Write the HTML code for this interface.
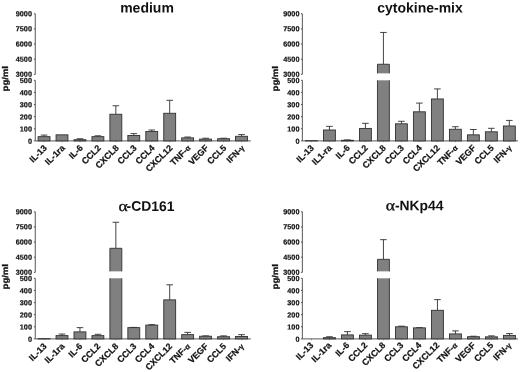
<!DOCTYPE html>
<html><head><meta charset="utf-8"><title>chart</title>
<style>
html,body{margin:0;padding:0;background:#fff;}
body{width:520px;height:372px;overflow:hidden;font-family:"Liberation Sans", sans-serif;}
svg{display:block;font-family:"Liberation Sans", sans-serif;filter:blur(0.3px);text-rendering:geometricPrecision;}
</style></head><body>
<svg width="520" height="372" viewBox="0 0 520 372">
<rect width="520" height="372" fill="#fff"/>
<text x="147" y="12.4" transform="rotate(0.03 147 12.4)" font-size="14" font-weight="bold" text-anchor="middle" fill="#111">medium</text>
<path d="M35.25 13.750000000000014V74.35000000000001M35.25 80.30000000000001V140.9H250.85" stroke="#444" stroke-width="0.9" fill="none"/>
<text x="31.95" y="143.70" transform="rotate(0.03 31.95 143.70)" font-size="7.25" font-weight="bold" text-anchor="end" fill="#111" stroke="#111" stroke-width="0.2">0</text>
<text x="31.95" y="131.58" transform="rotate(0.03 31.95 131.58)" font-size="7.25" font-weight="bold" text-anchor="end" fill="#111" stroke="#111" stroke-width="0.2">100</text>
<text x="31.95" y="119.46" transform="rotate(0.03 31.95 119.46)" font-size="7.25" font-weight="bold" text-anchor="end" fill="#111" stroke="#111" stroke-width="0.2">200</text>
<text x="31.95" y="107.34" transform="rotate(0.03 31.95 107.34)" font-size="7.25" font-weight="bold" text-anchor="end" fill="#111" stroke="#111" stroke-width="0.2">300</text>
<text x="31.95" y="95.22" transform="rotate(0.03 31.95 95.22)" font-size="7.25" font-weight="bold" text-anchor="end" fill="#111" stroke="#111" stroke-width="0.2">400</text>
<text x="31.95" y="83.10" transform="rotate(0.03 31.95 83.10)" font-size="7.25" font-weight="bold" text-anchor="end" fill="#111" stroke="#111" stroke-width="0.2">500</text>
<text x="31.95" y="76.80" transform="rotate(0.03 31.95 76.80)" font-size="7.25" font-weight="bold" text-anchor="end" fill="#111" stroke="#111" stroke-width="0.2">3000</text>
<text x="31.95" y="61.65" transform="rotate(0.03 31.95 61.65)" font-size="7.25" font-weight="bold" text-anchor="end" fill="#111" stroke="#111" stroke-width="0.2">4500</text>
<text x="31.95" y="46.50" transform="rotate(0.03 31.95 46.50)" font-size="7.25" font-weight="bold" text-anchor="end" fill="#111" stroke="#111" stroke-width="0.2">6000</text>
<text x="31.95" y="31.35" transform="rotate(0.03 31.95 31.35)" font-size="7.25" font-weight="bold" text-anchor="end" fill="#111" stroke="#111" stroke-width="0.2">7500</text>
<text x="31.95" y="16.20" transform="rotate(0.03 31.95 16.20)" font-size="7.25" font-weight="bold" text-anchor="end" fill="#111" stroke="#111" stroke-width="0.2">9000</text>
<path d="M33.85 140.90H35.25M33.85 128.78H35.25M33.85 116.66H35.25M33.85 104.54H35.25M33.85 92.42H35.25M33.85 80.30H35.25M33.85 74.35H35.25M33.85 59.20H35.25M33.85 44.05H35.25M33.85 28.90H35.25M33.85 13.75H35.25" stroke="#444" stroke-width="0.9" fill="none"/>
<text transform="translate(8.1,78.73) rotate(-90) scale(1.15,1)" font-size="8.3" font-weight="bold" text-anchor="middle" fill="#111" stroke="#111" stroke-width="0.3">pg/ml</text>
<path d="M44.05 136.66V135.08M40.75 135.08H47.35" stroke="#303030" stroke-width="0.9" fill="none"/>
<rect x="38.10" y="136.66" width="11.9" height="4.24" fill="#808080" stroke="#303030" stroke-width="0.9"/>
<path d="M44.05 140.90v1.3" stroke="#666" stroke-width="0.7"/>
<text transform="translate(47.55,148.50) rotate(-45)" font-size="8.8" font-weight="bold" text-anchor="end" fill="#111" stroke="#111" stroke-width="0.22">IL-13</text>
<rect x="56.05" y="134.84" width="11.9" height="6.06" fill="#808080" stroke="#303030" stroke-width="0.9"/>
<path d="M62.00 140.90v1.3" stroke="#666" stroke-width="0.7"/>
<text transform="translate(65.50,148.50) rotate(-45)" font-size="8.8" font-weight="bold" text-anchor="end" fill="#111" stroke="#111" stroke-width="0.22">IL-1ra</text>
<path d="M79.95 139.69V138.72M76.65 138.72H83.25" stroke="#303030" stroke-width="0.9" fill="none"/>
<rect x="74.00" y="139.69" width="11.9" height="1.21" fill="#808080" stroke="#303030" stroke-width="0.9"/>
<path d="M79.95 140.90v1.3" stroke="#666" stroke-width="0.7"/>
<text transform="translate(83.45,148.50) rotate(-45)" font-size="8.8" font-weight="bold" text-anchor="end" fill="#111" stroke="#111" stroke-width="0.22">IL-6</text>
<path d="M97.90 136.66V135.81M94.60 135.81H101.20" stroke="#303030" stroke-width="0.9" fill="none"/>
<rect x="91.95" y="136.66" width="11.9" height="4.24" fill="#808080" stroke="#303030" stroke-width="0.9"/>
<path d="M97.90 140.90v1.3" stroke="#666" stroke-width="0.7"/>
<text transform="translate(101.40,148.50) rotate(-45)" font-size="8.8" font-weight="bold" text-anchor="end" fill="#111" stroke="#111" stroke-width="0.22">CCL2</text>
<path d="M115.85 114.24V105.75M112.55 105.75H119.15" stroke="#303030" stroke-width="0.9" fill="none"/>
<rect x="109.90" y="114.24" width="11.9" height="26.66" fill="#808080" stroke="#303030" stroke-width="0.9"/>
<path d="M115.85 140.90v1.3" stroke="#666" stroke-width="0.7"/>
<text transform="translate(119.35,148.50) rotate(-45)" font-size="8.8" font-weight="bold" text-anchor="end" fill="#111" stroke="#111" stroke-width="0.22">CXCL8</text>
<path d="M133.80 135.45V133.63M130.50 133.63H137.10" stroke="#303030" stroke-width="0.9" fill="none"/>
<rect x="127.85" y="135.45" width="11.9" height="5.45" fill="#808080" stroke="#303030" stroke-width="0.9"/>
<path d="M133.80 140.90v1.3" stroke="#666" stroke-width="0.7"/>
<text transform="translate(137.30,148.50) rotate(-45)" font-size="8.8" font-weight="bold" text-anchor="end" fill="#111" stroke="#111" stroke-width="0.22">CCL3</text>
<path d="M151.75 131.45V129.99M148.45 129.99H155.05" stroke="#303030" stroke-width="0.9" fill="none"/>
<rect x="145.80" y="131.45" width="11.9" height="9.45" fill="#808080" stroke="#303030" stroke-width="0.9"/>
<path d="M151.75 140.90v1.3" stroke="#666" stroke-width="0.7"/>
<text transform="translate(155.25,148.50) rotate(-45)" font-size="8.8" font-weight="bold" text-anchor="end" fill="#111" stroke="#111" stroke-width="0.22">CCL4</text>
<path d="M169.70 113.27V100.30M166.40 100.30H173.00" stroke="#303030" stroke-width="0.9" fill="none"/>
<rect x="163.75" y="113.27" width="11.9" height="27.63" fill="#808080" stroke="#303030" stroke-width="0.9"/>
<path d="M169.70 140.90v1.3" stroke="#666" stroke-width="0.7"/>
<text transform="translate(173.20,148.50) rotate(-45)" font-size="8.8" font-weight="bold" text-anchor="end" fill="#111" stroke="#111" stroke-width="0.22">CXCL12</text>
<path d="M187.65 137.87V137.02M184.35 137.02H190.95" stroke="#303030" stroke-width="0.9" fill="none"/>
<rect x="181.70" y="137.87" width="11.9" height="3.03" fill="#808080" stroke="#303030" stroke-width="0.9"/>
<path d="M187.65 140.90v1.3" stroke="#666" stroke-width="0.7"/>
<text transform="translate(191.15,148.50) rotate(-45)" font-size="8.8" font-weight="bold" text-anchor="end" fill="#111" stroke="#111" stroke-width="0.22">TNF-<tspan font-size="7.6">α</tspan></text>
<path d="M205.60 139.08V138.23M202.30 138.23H208.90" stroke="#303030" stroke-width="0.9" fill="none"/>
<rect x="199.65" y="139.08" width="11.9" height="1.82" fill="#808080" stroke="#303030" stroke-width="0.9"/>
<path d="M205.60 140.90v1.3" stroke="#666" stroke-width="0.7"/>
<text transform="translate(209.10,148.50) rotate(-45)" font-size="8.8" font-weight="bold" text-anchor="end" fill="#111" stroke="#111" stroke-width="0.22">VEGF</text>
<path d="M223.55 138.72V138.23M220.25 138.23H226.85" stroke="#303030" stroke-width="0.9" fill="none"/>
<rect x="217.60" y="138.72" width="11.9" height="2.18" fill="#808080" stroke="#303030" stroke-width="0.9"/>
<path d="M223.55 140.90v1.3" stroke="#666" stroke-width="0.7"/>
<text transform="translate(227.05,148.50) rotate(-45)" font-size="8.8" font-weight="bold" text-anchor="end" fill="#111" stroke="#111" stroke-width="0.22">CCL5</text>
<path d="M241.50 136.29V134.60M238.20 134.60H244.80" stroke="#303030" stroke-width="0.9" fill="none"/>
<rect x="235.55" y="136.29" width="11.9" height="4.61" fill="#808080" stroke="#303030" stroke-width="0.9"/>
<path d="M241.50 140.90v1.3" stroke="#666" stroke-width="0.7"/>
<text transform="translate(245.00,148.50) rotate(-45)" font-size="8.8" font-weight="bold" text-anchor="end" fill="#111" stroke="#111" stroke-width="0.22">IFN-<tspan font-size="7.6">γ</tspan></text>
<text x="420" y="12.4" transform="rotate(0.03 420 12.4)" font-size="14" font-weight="bold" text-anchor="middle" fill="#111">cytokine-mix</text>
<path d="M302.35 13.750000000000014V74.35000000000001M302.35 80.30000000000001V140.9H517.95" stroke="#444" stroke-width="0.9" fill="none"/>
<text x="299.45" y="143.70" transform="rotate(0.03 299.45 143.70)" font-size="7.25" font-weight="bold" text-anchor="end" fill="#111" stroke="#111" stroke-width="0.2">0</text>
<text x="299.45" y="131.58" transform="rotate(0.03 299.45 131.58)" font-size="7.25" font-weight="bold" text-anchor="end" fill="#111" stroke="#111" stroke-width="0.2">100</text>
<text x="299.45" y="119.46" transform="rotate(0.03 299.45 119.46)" font-size="7.25" font-weight="bold" text-anchor="end" fill="#111" stroke="#111" stroke-width="0.2">200</text>
<text x="299.45" y="107.34" transform="rotate(0.03 299.45 107.34)" font-size="7.25" font-weight="bold" text-anchor="end" fill="#111" stroke="#111" stroke-width="0.2">300</text>
<text x="299.45" y="95.22" transform="rotate(0.03 299.45 95.22)" font-size="7.25" font-weight="bold" text-anchor="end" fill="#111" stroke="#111" stroke-width="0.2">400</text>
<text x="299.45" y="83.10" transform="rotate(0.03 299.45 83.10)" font-size="7.25" font-weight="bold" text-anchor="end" fill="#111" stroke="#111" stroke-width="0.2">500</text>
<text x="299.45" y="76.80" transform="rotate(0.03 299.45 76.80)" font-size="7.25" font-weight="bold" text-anchor="end" fill="#111" stroke="#111" stroke-width="0.2">3000</text>
<text x="299.45" y="61.65" transform="rotate(0.03 299.45 61.65)" font-size="7.25" font-weight="bold" text-anchor="end" fill="#111" stroke="#111" stroke-width="0.2">4500</text>
<text x="299.45" y="46.50" transform="rotate(0.03 299.45 46.50)" font-size="7.25" font-weight="bold" text-anchor="end" fill="#111" stroke="#111" stroke-width="0.2">6000</text>
<text x="299.45" y="31.35" transform="rotate(0.03 299.45 31.35)" font-size="7.25" font-weight="bold" text-anchor="end" fill="#111" stroke="#111" stroke-width="0.2">7500</text>
<text x="299.45" y="16.20" transform="rotate(0.03 299.45 16.20)" font-size="7.25" font-weight="bold" text-anchor="end" fill="#111" stroke="#111" stroke-width="0.2">9000</text>
<path d="M300.95000000000005 140.90H302.35M300.95000000000005 128.78H302.35M300.95000000000005 116.66H302.35M300.95000000000005 104.54H302.35M300.95000000000005 92.42H302.35M300.95000000000005 80.30H302.35M300.95000000000005 74.35H302.35M300.95000000000005 59.20H302.35M300.95000000000005 44.05H302.35M300.95000000000005 28.90H302.35M300.95000000000005 13.75H302.35" stroke="#444" stroke-width="0.9" fill="none"/>
<text transform="translate(278.3,78.73) rotate(-90) scale(1.15,1)" font-size="8.3" font-weight="bold" text-anchor="middle" fill="#111" stroke="#111" stroke-width="0.3">pg/ml</text>
<rect x="305.50" y="140.66" width="11.9" height="0.24" fill="#808080" stroke="#303030" stroke-width="0.9"/>
<path d="M311.45 140.90v1.3" stroke="#666" stroke-width="0.7"/>
<text transform="translate(314.45,148.50) rotate(-45)" font-size="8.8" font-weight="bold" text-anchor="end" fill="#111" stroke="#111" stroke-width="0.22">IL-13</text>
<path d="M329.44 129.99V126.36M326.14 126.36H332.74" stroke="#303030" stroke-width="0.9" fill="none"/>
<rect x="323.49" y="129.99" width="11.9" height="10.91" fill="#808080" stroke="#303030" stroke-width="0.9"/>
<path d="M329.44 140.90v1.3" stroke="#666" stroke-width="0.7"/>
<text transform="translate(332.44,148.50) rotate(-45)" font-size="8.8" font-weight="bold" text-anchor="end" fill="#111" stroke="#111" stroke-width="0.22">IL1-ra</text>
<path d="M347.43 140.29V139.93M344.13 139.93H350.73" stroke="#303030" stroke-width="0.9" fill="none"/>
<rect x="341.48" y="140.29" width="11.9" height="0.61" fill="#808080" stroke="#303030" stroke-width="0.9"/>
<path d="M347.43 140.90v1.3" stroke="#666" stroke-width="0.7"/>
<text transform="translate(350.43,148.50) rotate(-45)" font-size="8.8" font-weight="bold" text-anchor="end" fill="#111" stroke="#111" stroke-width="0.22">IL-6</text>
<path d="M365.42 128.42V123.33M362.12 123.33H368.72" stroke="#303030" stroke-width="0.9" fill="none"/>
<rect x="359.47" y="128.42" width="11.9" height="12.48" fill="#808080" stroke="#303030" stroke-width="0.9"/>
<path d="M365.42 140.90v1.3" stroke="#666" stroke-width="0.7"/>
<text transform="translate(368.42,148.50) rotate(-45)" font-size="8.8" font-weight="bold" text-anchor="end" fill="#111" stroke="#111" stroke-width="0.22">CCL2</text>
<path d="M383.41 64.25V32.44M380.11 32.44H386.71" stroke="#303030" stroke-width="0.9" fill="none"/>
<rect x="377.46" y="80.30" width="11.9" height="60.60" fill="#808080"/>
<path d="M377.46 80.30V140.90H389.36V80.30" fill="none" stroke="#303030" stroke-width="0.9"/>
<rect x="377.46" y="64.25" width="11.9" height="9.10" fill="#808080"/>
<path d="M377.46 73.35V64.25H389.36V73.35" fill="none" stroke="#303030" stroke-width="0.9"/>
<path d="M383.41 140.90v1.3" stroke="#666" stroke-width="0.7"/>
<text transform="translate(386.41,148.50) rotate(-45)" font-size="8.8" font-weight="bold" text-anchor="end" fill="#111" stroke="#111" stroke-width="0.22">CXCL8</text>
<path d="M401.40 123.81V121.27M398.10 121.27H404.70" stroke="#303030" stroke-width="0.9" fill="none"/>
<rect x="395.45" y="123.81" width="11.9" height="17.09" fill="#808080" stroke="#303030" stroke-width="0.9"/>
<path d="M401.40 140.90v1.3" stroke="#666" stroke-width="0.7"/>
<text transform="translate(404.40,148.50) rotate(-45)" font-size="8.8" font-weight="bold" text-anchor="end" fill="#111" stroke="#111" stroke-width="0.22">CCL3</text>
<path d="M419.39 111.81V103.09M416.09 103.09H422.69" stroke="#303030" stroke-width="0.9" fill="none"/>
<rect x="413.44" y="111.81" width="11.9" height="29.09" fill="#808080" stroke="#303030" stroke-width="0.9"/>
<path d="M419.39 140.90v1.3" stroke="#666" stroke-width="0.7"/>
<text transform="translate(422.39,148.50) rotate(-45)" font-size="8.8" font-weight="bold" text-anchor="end" fill="#111" stroke="#111" stroke-width="0.22">CCL4</text>
<path d="M437.38 98.96V88.91M434.08 88.91H440.68" stroke="#303030" stroke-width="0.9" fill="none"/>
<rect x="431.43" y="98.96" width="11.9" height="41.94" fill="#808080" stroke="#303030" stroke-width="0.9"/>
<path d="M437.38 140.90v1.3" stroke="#666" stroke-width="0.7"/>
<text transform="translate(440.38,148.50) rotate(-45)" font-size="8.8" font-weight="bold" text-anchor="end" fill="#111" stroke="#111" stroke-width="0.22">CXCL12</text>
<path d="M455.37 129.26V126.72M452.07 126.72H458.67" stroke="#303030" stroke-width="0.9" fill="none"/>
<rect x="449.42" y="129.26" width="11.9" height="11.64" fill="#808080" stroke="#303030" stroke-width="0.9"/>
<path d="M455.37 140.90v1.3" stroke="#666" stroke-width="0.7"/>
<text transform="translate(458.37,148.50) rotate(-45)" font-size="8.8" font-weight="bold" text-anchor="end" fill="#111" stroke="#111" stroke-width="0.22">TNF-<tspan font-size="7.6">α</tspan></text>
<path d="M473.36 134.84V129.51M470.06 129.51H476.66" stroke="#303030" stroke-width="0.9" fill="none"/>
<rect x="467.41" y="134.84" width="11.9" height="6.06" fill="#808080" stroke="#303030" stroke-width="0.9"/>
<path d="M473.36 140.90v1.3" stroke="#666" stroke-width="0.7"/>
<text transform="translate(476.36,148.50) rotate(-45)" font-size="8.8" font-weight="bold" text-anchor="end" fill="#111" stroke="#111" stroke-width="0.22">VEGF</text>
<path d="M491.35 131.81V128.30M488.05 128.30H494.65" stroke="#303030" stroke-width="0.9" fill="none"/>
<rect x="485.40" y="131.81" width="11.9" height="9.09" fill="#808080" stroke="#303030" stroke-width="0.9"/>
<path d="M491.35 140.90v1.3" stroke="#666" stroke-width="0.7"/>
<text transform="translate(494.35,148.50) rotate(-45)" font-size="8.8" font-weight="bold" text-anchor="end" fill="#111" stroke="#111" stroke-width="0.22">CCL5</text>
<path d="M509.34 125.99V120.42M506.04 120.42H512.64" stroke="#303030" stroke-width="0.9" fill="none"/>
<rect x="503.39" y="125.99" width="11.9" height="14.91" fill="#808080" stroke="#303030" stroke-width="0.9"/>
<path d="M509.34 140.90v1.3" stroke="#666" stroke-width="0.7"/>
<text transform="translate(512.34,148.50) rotate(-45)" font-size="8.8" font-weight="bold" text-anchor="end" fill="#111" stroke="#111" stroke-width="0.22">IFN-<tspan font-size="7.6">γ</tspan></text>
<text transform="translate(118.6,210.9) rotate(0.03) scale(1.17,1)" font-family='"Liberation Serif", serif' font-size="15" fill="#111" stroke="#111" stroke-width="0.35">α</text>
<text x="174.4" y="210.9" transform="rotate(0.03 174.4 210.9)" font-size="13.9" font-weight="bold" text-anchor="end" fill="#111">-CD161</text>
<path d="M35.25 211.74999999999997V272.34999999999997M35.25 278.29999999999995V338.9H250.85" stroke="#444" stroke-width="0.9" fill="none"/>
<text x="31.95" y="341.70" transform="rotate(0.03 31.95 341.70)" font-size="7.25" font-weight="bold" text-anchor="end" fill="#111" stroke="#111" stroke-width="0.2">0</text>
<text x="31.95" y="329.58" transform="rotate(0.03 31.95 329.58)" font-size="7.25" font-weight="bold" text-anchor="end" fill="#111" stroke="#111" stroke-width="0.2">100</text>
<text x="31.95" y="317.46" transform="rotate(0.03 31.95 317.46)" font-size="7.25" font-weight="bold" text-anchor="end" fill="#111" stroke="#111" stroke-width="0.2">200</text>
<text x="31.95" y="305.34" transform="rotate(0.03 31.95 305.34)" font-size="7.25" font-weight="bold" text-anchor="end" fill="#111" stroke="#111" stroke-width="0.2">300</text>
<text x="31.95" y="293.22" transform="rotate(0.03 31.95 293.22)" font-size="7.25" font-weight="bold" text-anchor="end" fill="#111" stroke="#111" stroke-width="0.2">400</text>
<text x="31.95" y="281.10" transform="rotate(0.03 31.95 281.10)" font-size="7.25" font-weight="bold" text-anchor="end" fill="#111" stroke="#111" stroke-width="0.2">500</text>
<text x="31.95" y="274.80" transform="rotate(0.03 31.95 274.80)" font-size="7.25" font-weight="bold" text-anchor="end" fill="#111" stroke="#111" stroke-width="0.2">3000</text>
<text x="31.95" y="259.65" transform="rotate(0.03 31.95 259.65)" font-size="7.25" font-weight="bold" text-anchor="end" fill="#111" stroke="#111" stroke-width="0.2">4500</text>
<text x="31.95" y="244.50" transform="rotate(0.03 31.95 244.50)" font-size="7.25" font-weight="bold" text-anchor="end" fill="#111" stroke="#111" stroke-width="0.2">6000</text>
<text x="31.95" y="229.35" transform="rotate(0.03 31.95 229.35)" font-size="7.25" font-weight="bold" text-anchor="end" fill="#111" stroke="#111" stroke-width="0.2">7500</text>
<text x="31.95" y="214.20" transform="rotate(0.03 31.95 214.20)" font-size="7.25" font-weight="bold" text-anchor="end" fill="#111" stroke="#111" stroke-width="0.2">9000</text>
<path d="M33.85 338.90H35.25M33.85 326.78H35.25M33.85 314.66H35.25M33.85 302.54H35.25M33.85 290.42H35.25M33.85 278.30H35.25M33.85 272.35H35.25M33.85 257.20H35.25M33.85 242.05H35.25M33.85 226.90H35.25M33.85 211.75H35.25" stroke="#444" stroke-width="0.9" fill="none"/>
<text transform="translate(8.1,276.72) rotate(-90) scale(1.15,1)" font-size="8.3" font-weight="bold" text-anchor="middle" fill="#111" stroke="#111" stroke-width="0.3">pg/ml</text>
<rect x="38.10" y="338.66" width="11.9" height="0.24" fill="#808080" stroke="#303030" stroke-width="0.9"/>
<path d="M44.05 338.90v1.3" stroke="#666" stroke-width="0.7"/>
<text transform="translate(47.15,346.90) rotate(-45)" font-size="8.8" font-weight="bold" text-anchor="end" fill="#111" stroke="#111" stroke-width="0.22">IL-13</text>
<path d="M62.00 335.63V334.05M58.70 334.05H65.30" stroke="#303030" stroke-width="0.9" fill="none"/>
<rect x="56.05" y="335.63" width="11.9" height="3.27" fill="#808080" stroke="#303030" stroke-width="0.9"/>
<path d="M62.00 338.90v1.3" stroke="#666" stroke-width="0.7"/>
<text transform="translate(65.10,346.90) rotate(-45)" font-size="8.8" font-weight="bold" text-anchor="end" fill="#111" stroke="#111" stroke-width="0.22">IL-1ra</text>
<path d="M79.95 331.87V327.63M76.65 327.63H83.25" stroke="#303030" stroke-width="0.9" fill="none"/>
<rect x="74.00" y="331.87" width="11.9" height="7.03" fill="#808080" stroke="#303030" stroke-width="0.9"/>
<path d="M79.95 338.90v1.3" stroke="#666" stroke-width="0.7"/>
<text transform="translate(83.05,346.90) rotate(-45)" font-size="8.8" font-weight="bold" text-anchor="end" fill="#111" stroke="#111" stroke-width="0.22">IL-6</text>
<path d="M97.90 335.63V334.29M94.60 334.29H101.20" stroke="#303030" stroke-width="0.9" fill="none"/>
<rect x="91.95" y="335.63" width="11.9" height="3.27" fill="#808080" stroke="#303030" stroke-width="0.9"/>
<path d="M97.90 338.90v1.3" stroke="#666" stroke-width="0.7"/>
<text transform="translate(101.00,346.90) rotate(-45)" font-size="8.8" font-weight="bold" text-anchor="end" fill="#111" stroke="#111" stroke-width="0.22">CCL2</text>
<path d="M115.85 248.31V222.27M112.55 222.27H119.15" stroke="#303030" stroke-width="0.9" fill="none"/>
<rect x="109.90" y="278.30" width="11.9" height="60.60" fill="#808080"/>
<path d="M109.90 278.30V338.90H121.80V278.30" fill="none" stroke="#303030" stroke-width="0.9"/>
<rect x="109.90" y="248.31" width="11.9" height="23.04" fill="#808080"/>
<path d="M109.90 271.35V248.31H121.80V271.35" fill="none" stroke="#303030" stroke-width="0.9"/>
<path d="M115.85 338.90v1.3" stroke="#666" stroke-width="0.7"/>
<text transform="translate(118.95,346.90) rotate(-45)" font-size="8.8" font-weight="bold" text-anchor="end" fill="#111" stroke="#111" stroke-width="0.22">CXCL8</text>
<path d="M133.80 327.63V327.39M130.50 327.39H137.10" stroke="#303030" stroke-width="0.9" fill="none"/>
<rect x="127.85" y="327.63" width="11.9" height="11.27" fill="#808080" stroke="#303030" stroke-width="0.9"/>
<path d="M133.80 338.90v1.3" stroke="#666" stroke-width="0.7"/>
<text transform="translate(136.90,346.90) rotate(-45)" font-size="8.8" font-weight="bold" text-anchor="end" fill="#111" stroke="#111" stroke-width="0.22">CCL3</text>
<path d="M151.75 325.08V324.60M148.45 324.60H155.05" stroke="#303030" stroke-width="0.9" fill="none"/>
<rect x="145.80" y="325.08" width="11.9" height="13.82" fill="#808080" stroke="#303030" stroke-width="0.9"/>
<path d="M151.75 338.90v1.3" stroke="#666" stroke-width="0.7"/>
<text transform="translate(154.85,346.90) rotate(-45)" font-size="8.8" font-weight="bold" text-anchor="end" fill="#111" stroke="#111" stroke-width="0.22">CCL4</text>
<path d="M169.70 299.87V284.84M166.40 284.84H173.00" stroke="#303030" stroke-width="0.9" fill="none"/>
<rect x="163.75" y="299.87" width="11.9" height="39.03" fill="#808080" stroke="#303030" stroke-width="0.9"/>
<path d="M169.70 338.90v1.3" stroke="#666" stroke-width="0.7"/>
<text transform="translate(172.80,346.90) rotate(-45)" font-size="8.8" font-weight="bold" text-anchor="end" fill="#111" stroke="#111" stroke-width="0.22">CXCL12</text>
<path d="M187.65 334.66V332.36M184.35 332.36H190.95" stroke="#303030" stroke-width="0.9" fill="none"/>
<rect x="181.70" y="334.66" width="11.9" height="4.24" fill="#808080" stroke="#303030" stroke-width="0.9"/>
<path d="M187.65 338.90v1.3" stroke="#666" stroke-width="0.7"/>
<text transform="translate(190.75,346.90) rotate(-45)" font-size="8.8" font-weight="bold" text-anchor="end" fill="#111" stroke="#111" stroke-width="0.22">TNF-<tspan font-size="7.6">α</tspan></text>
<path d="M205.60 336.23V335.87M202.30 335.87H208.90" stroke="#303030" stroke-width="0.9" fill="none"/>
<rect x="199.65" y="336.23" width="11.9" height="2.67" fill="#808080" stroke="#303030" stroke-width="0.9"/>
<path d="M205.60 338.90v1.3" stroke="#666" stroke-width="0.7"/>
<text transform="translate(208.70,346.90) rotate(-45)" font-size="8.8" font-weight="bold" text-anchor="end" fill="#111" stroke="#111" stroke-width="0.22">VEGF</text>
<path d="M223.55 336.72V335.87M220.25 335.87H226.85" stroke="#303030" stroke-width="0.9" fill="none"/>
<rect x="217.60" y="336.72" width="11.9" height="2.18" fill="#808080" stroke="#303030" stroke-width="0.9"/>
<path d="M223.55 338.90v1.3" stroke="#666" stroke-width="0.7"/>
<text transform="translate(226.65,346.90) rotate(-45)" font-size="8.8" font-weight="bold" text-anchor="end" fill="#111" stroke="#111" stroke-width="0.22">CCL5</text>
<path d="M241.50 336.48V334.66M238.20 334.66H244.80" stroke="#303030" stroke-width="0.9" fill="none"/>
<rect x="235.55" y="336.48" width="11.9" height="2.42" fill="#808080" stroke="#303030" stroke-width="0.9"/>
<path d="M241.50 338.90v1.3" stroke="#666" stroke-width="0.7"/>
<text transform="translate(244.60,346.90) rotate(-45)" font-size="8.8" font-weight="bold" text-anchor="end" fill="#111" stroke="#111" stroke-width="0.22">IFN-<tspan font-size="7.6">γ</tspan></text>
<text transform="translate(385.8,210.2) rotate(0.03) scale(1.17,1)" font-family='"Liberation Serif", serif' font-size="15" fill="#111" stroke="#111" stroke-width="0.35">α</text>
<text x="443.5" y="210.2" transform="rotate(0.03 443.5 210.2)" font-size="13.9" font-weight="bold" text-anchor="end" fill="#111">-NKp44</text>
<path d="M302.35 211.74999999999997V272.34999999999997M302.35 278.29999999999995V338.9H517.95" stroke="#444" stroke-width="0.9" fill="none"/>
<text x="299.45" y="341.70" transform="rotate(0.03 299.45 341.70)" font-size="7.25" font-weight="bold" text-anchor="end" fill="#111" stroke="#111" stroke-width="0.2">0</text>
<text x="299.45" y="329.58" transform="rotate(0.03 299.45 329.58)" font-size="7.25" font-weight="bold" text-anchor="end" fill="#111" stroke="#111" stroke-width="0.2">100</text>
<text x="299.45" y="317.46" transform="rotate(0.03 299.45 317.46)" font-size="7.25" font-weight="bold" text-anchor="end" fill="#111" stroke="#111" stroke-width="0.2">200</text>
<text x="299.45" y="305.34" transform="rotate(0.03 299.45 305.34)" font-size="7.25" font-weight="bold" text-anchor="end" fill="#111" stroke="#111" stroke-width="0.2">300</text>
<text x="299.45" y="293.22" transform="rotate(0.03 299.45 293.22)" font-size="7.25" font-weight="bold" text-anchor="end" fill="#111" stroke="#111" stroke-width="0.2">400</text>
<text x="299.45" y="281.10" transform="rotate(0.03 299.45 281.10)" font-size="7.25" font-weight="bold" text-anchor="end" fill="#111" stroke="#111" stroke-width="0.2">500</text>
<text x="299.45" y="274.80" transform="rotate(0.03 299.45 274.80)" font-size="7.25" font-weight="bold" text-anchor="end" fill="#111" stroke="#111" stroke-width="0.2">3000</text>
<text x="299.45" y="259.65" transform="rotate(0.03 299.45 259.65)" font-size="7.25" font-weight="bold" text-anchor="end" fill="#111" stroke="#111" stroke-width="0.2">4500</text>
<text x="299.45" y="244.50" transform="rotate(0.03 299.45 244.50)" font-size="7.25" font-weight="bold" text-anchor="end" fill="#111" stroke="#111" stroke-width="0.2">6000</text>
<text x="299.45" y="229.35" transform="rotate(0.03 299.45 229.35)" font-size="7.25" font-weight="bold" text-anchor="end" fill="#111" stroke="#111" stroke-width="0.2">7500</text>
<text x="299.45" y="214.20" transform="rotate(0.03 299.45 214.20)" font-size="7.25" font-weight="bold" text-anchor="end" fill="#111" stroke="#111" stroke-width="0.2">9000</text>
<path d="M300.95000000000005 338.90H302.35M300.95000000000005 326.78H302.35M300.95000000000005 314.66H302.35M300.95000000000005 302.54H302.35M300.95000000000005 290.42H302.35M300.95000000000005 278.30H302.35M300.95000000000005 272.35H302.35M300.95000000000005 257.20H302.35M300.95000000000005 242.05H302.35M300.95000000000005 226.90H302.35M300.95000000000005 211.75H302.35" stroke="#444" stroke-width="0.9" fill="none"/>
<text transform="translate(278.3,276.72) rotate(-90) scale(1.15,1)" font-size="8.3" font-weight="bold" text-anchor="middle" fill="#111" stroke="#111" stroke-width="0.3">pg/ml</text>
<path d="M311.45 338.90v1.3" stroke="#666" stroke-width="0.7"/>
<text transform="translate(313.95,345.90) rotate(-45)" font-size="8.8" font-weight="bold" text-anchor="end" fill="#111" stroke="#111" stroke-width="0.22">IL-13</text>
<path d="M329.45 337.69V336.72M326.15 336.72H332.75" stroke="#303030" stroke-width="0.9" fill="none"/>
<rect x="323.50" y="337.69" width="11.9" height="1.21" fill="#808080" stroke="#303030" stroke-width="0.9"/>
<path d="M329.45 338.90v1.3" stroke="#666" stroke-width="0.7"/>
<text transform="translate(331.95,345.90) rotate(-45)" font-size="8.8" font-weight="bold" text-anchor="end" fill="#111" stroke="#111" stroke-width="0.22">IL-1ra</text>
<path d="M347.45 334.90V331.63M344.15 331.63H350.75" stroke="#303030" stroke-width="0.9" fill="none"/>
<rect x="341.50" y="334.90" width="11.9" height="4.00" fill="#808080" stroke="#303030" stroke-width="0.9"/>
<path d="M347.45 338.90v1.3" stroke="#666" stroke-width="0.7"/>
<text transform="translate(349.95,345.90) rotate(-45)" font-size="8.8" font-weight="bold" text-anchor="end" fill="#111" stroke="#111" stroke-width="0.22">IL-6</text>
<path d="M365.45 335.14V333.69M362.15 333.69H368.75" stroke="#303030" stroke-width="0.9" fill="none"/>
<rect x="359.50" y="335.14" width="11.9" height="3.76" fill="#808080" stroke="#303030" stroke-width="0.9"/>
<path d="M365.45 338.90v1.3" stroke="#666" stroke-width="0.7"/>
<text transform="translate(367.95,345.90) rotate(-45)" font-size="8.8" font-weight="bold" text-anchor="end" fill="#111" stroke="#111" stroke-width="0.22">CCL2</text>
<path d="M383.45 259.32V239.67M380.15 239.67H386.75" stroke="#303030" stroke-width="0.9" fill="none"/>
<rect x="377.50" y="278.30" width="11.9" height="60.60" fill="#808080"/>
<path d="M377.50 278.30V338.90H389.40V278.30" fill="none" stroke="#303030" stroke-width="0.9"/>
<rect x="377.50" y="259.32" width="11.9" height="12.03" fill="#808080"/>
<path d="M377.50 271.35V259.32H389.40V271.35" fill="none" stroke="#303030" stroke-width="0.9"/>
<path d="M383.45 338.90v1.3" stroke="#666" stroke-width="0.7"/>
<text transform="translate(385.95,345.90) rotate(-45)" font-size="8.8" font-weight="bold" text-anchor="end" fill="#111" stroke="#111" stroke-width="0.22">CXCL8</text>
<path d="M401.45 326.78V326.17M398.15 326.17H404.75" stroke="#303030" stroke-width="0.9" fill="none"/>
<rect x="395.50" y="326.78" width="11.9" height="12.12" fill="#808080" stroke="#303030" stroke-width="0.9"/>
<path d="M401.45 338.90v1.3" stroke="#666" stroke-width="0.7"/>
<text transform="translate(403.95,345.90) rotate(-45)" font-size="8.8" font-weight="bold" text-anchor="end" fill="#111" stroke="#111" stroke-width="0.22">CCL3</text>
<path d="M419.45 327.87V327.63M416.15 327.63H422.75" stroke="#303030" stroke-width="0.9" fill="none"/>
<rect x="413.50" y="327.87" width="11.9" height="11.03" fill="#808080" stroke="#303030" stroke-width="0.9"/>
<path d="M419.45 338.90v1.3" stroke="#666" stroke-width="0.7"/>
<text transform="translate(421.95,345.90) rotate(-45)" font-size="8.8" font-weight="bold" text-anchor="end" fill="#111" stroke="#111" stroke-width="0.22">CCL4</text>
<path d="M437.45 310.30V299.63M434.15 299.63H440.75" stroke="#303030" stroke-width="0.9" fill="none"/>
<rect x="431.50" y="310.30" width="11.9" height="28.60" fill="#808080" stroke="#303030" stroke-width="0.9"/>
<path d="M437.45 338.90v1.3" stroke="#666" stroke-width="0.7"/>
<text transform="translate(439.95,345.90) rotate(-45)" font-size="8.8" font-weight="bold" text-anchor="end" fill="#111" stroke="#111" stroke-width="0.22">CXCL12</text>
<path d="M455.45 333.93V330.90M452.15 330.90H458.75" stroke="#303030" stroke-width="0.9" fill="none"/>
<rect x="449.50" y="333.93" width="11.9" height="4.97" fill="#808080" stroke="#303030" stroke-width="0.9"/>
<path d="M455.45 338.90v1.3" stroke="#666" stroke-width="0.7"/>
<text transform="translate(457.95,345.90) rotate(-45)" font-size="8.8" font-weight="bold" text-anchor="end" fill="#111" stroke="#111" stroke-width="0.22">TNF-<tspan font-size="7.6">α</tspan></text>
<path d="M473.45 336.72V336.23M470.15 336.23H476.75" stroke="#303030" stroke-width="0.9" fill="none"/>
<rect x="467.50" y="336.72" width="11.9" height="2.18" fill="#808080" stroke="#303030" stroke-width="0.9"/>
<path d="M473.45 338.90v1.3" stroke="#666" stroke-width="0.7"/>
<text transform="translate(475.95,345.90) rotate(-45)" font-size="8.8" font-weight="bold" text-anchor="end" fill="#111" stroke="#111" stroke-width="0.22">VEGF</text>
<path d="M491.45 336.84V335.87M488.15 335.87H494.75" stroke="#303030" stroke-width="0.9" fill="none"/>
<rect x="485.50" y="336.84" width="11.9" height="2.06" fill="#808080" stroke="#303030" stroke-width="0.9"/>
<path d="M491.45 338.90v1.3" stroke="#666" stroke-width="0.7"/>
<text transform="translate(493.95,345.90) rotate(-45)" font-size="8.8" font-weight="bold" text-anchor="end" fill="#111" stroke="#111" stroke-width="0.22">CCL5</text>
<path d="M509.45 335.39V333.57M506.15 333.57H512.75" stroke="#303030" stroke-width="0.9" fill="none"/>
<rect x="503.50" y="335.39" width="11.9" height="3.51" fill="#808080" stroke="#303030" stroke-width="0.9"/>
<path d="M509.45 338.90v1.3" stroke="#666" stroke-width="0.7"/>
<text transform="translate(511.95,345.90) rotate(-45)" font-size="8.8" font-weight="bold" text-anchor="end" fill="#111" stroke="#111" stroke-width="0.22">IFN-<tspan font-size="7.6">γ</tspan></text>
</svg>
</body></html>
